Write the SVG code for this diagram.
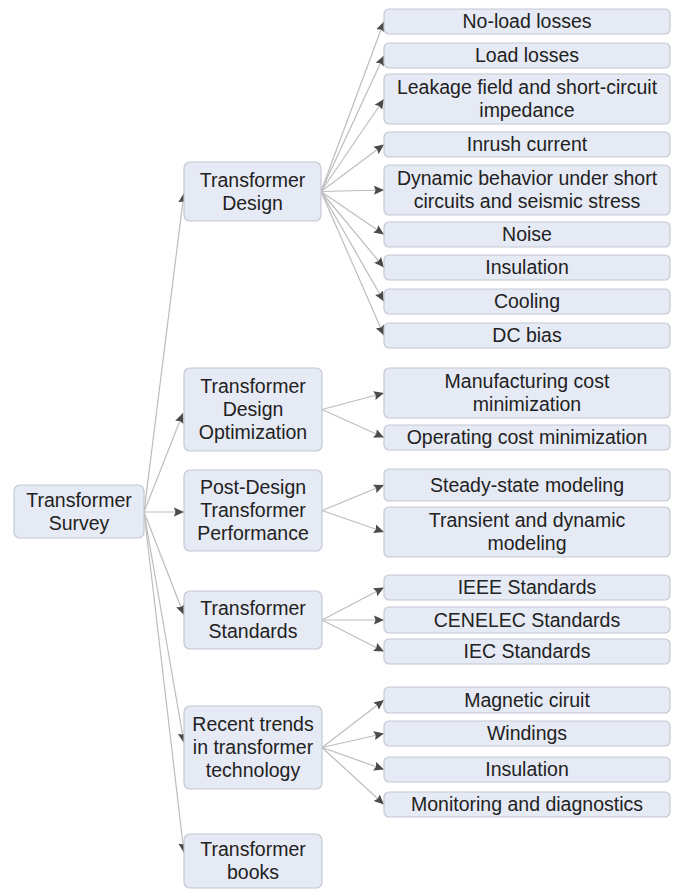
<svg xmlns="http://www.w3.org/2000/svg" width="678" height="889" viewBox="0 0 678 889">
<defs>
<marker id="ah" markerUnits="userSpaceOnUse" markerWidth="11" markerHeight="10" refX="10" refY="5" orient="auto">
<path d="M0,0.5 L10,5 L0,9.5 L1.5,5 Z" fill="#4a4a4a"/>
</marker>
<style>
.n rect{fill:#e6eaf5;stroke:#c3c8d3;stroke-width:1.2}
.n text{font-family:"Liberation Sans",Arial,sans-serif;font-size:19.5px;fill:#222;text-anchor:middle}
#connectors line{stroke:#bdbdbd;stroke-width:1.2;marker-end:url(#ah)}
</style>
</defs>
<rect width="678" height="889" fill="#ffffff"/>
<g id="connectors">
<line x1="144" y1="512" x2="184" y2="193"/>
<line x1="144" y1="512" x2="183" y2="413"/>
<line x1="144" y1="512" x2="184" y2="512"/>
<line x1="144" y1="512" x2="184" y2="615"/>
<line x1="144" y1="512" x2="184" y2="743"/>
<line x1="144" y1="512" x2="184" y2="853"/>
<line x1="321" y1="191.5" x2="384" y2="21.5"/>
<line x1="321" y1="191.5" x2="384" y2="55.5"/>
<line x1="321" y1="191.5" x2="384" y2="99"/>
<line x1="321" y1="191.5" x2="384" y2="144.5"/>
<line x1="321" y1="191.5" x2="384" y2="190"/>
<line x1="321" y1="191.5" x2="384" y2="234.5"/>
<line x1="321" y1="191.5" x2="384" y2="267.5"/>
<line x1="321" y1="191.5" x2="384" y2="301.5"/>
<line x1="321" y1="191.5" x2="384" y2="335.5"/>
<line x1="322" y1="409.5" x2="384" y2="393"/>
<line x1="322" y1="409.5" x2="384" y2="437.5"/>
<line x1="322" y1="510.5" x2="384" y2="485"/>
<line x1="322" y1="510.5" x2="384" y2="532"/>
<line x1="322" y1="620" x2="384" y2="587.5"/>
<line x1="322" y1="620" x2="384" y2="620"/>
<line x1="322" y1="620" x2="384" y2="651.5"/>
<line x1="322" y1="747.5" x2="384" y2="700"/>
<line x1="322" y1="747.5" x2="384" y2="733.5"/>
<line x1="322" y1="747.5" x2="384" y2="769.5"/>
<line x1="322" y1="747.5" x2="384" y2="804.5"/>
</g>
<g id="root" class="n"><rect x="14" y="485" width="130" height="53" rx="6"/><text x="79" y="506.8">Transformer</text><text x="79" y="529.8">Survey</text></g>
<g id="design" class="n"><rect x="184" y="162" width="137" height="59" rx="6"/><text x="252.5" y="187">Transformer</text><text x="252.5" y="210">Design</text></g>
<g id="optimization" class="n"><rect x="184" y="368" width="138" height="83" rx="6"/><text x="253" y="393.3">Transformer</text><text x="253" y="416.3">Design</text><text x="253" y="439.3">Optimization</text></g>
<g id="postdesign" class="n"><rect x="184" y="470" width="138" height="81" rx="6"/><text x="253" y="494.3">Post-Design</text><text x="253" y="517.3">Transformer</text><text x="253" y="540.3">Performance</text></g>
<g id="standards" class="n"><rect x="184" y="591" width="138" height="58" rx="6"/><text x="253" y="615.3">Transformer</text><text x="253" y="638.3">Standards</text></g>
<g id="trends" class="n"><rect x="184" y="706" width="138" height="83" rx="6"/><text x="253" y="731.3">Recent trends</text><text x="253" y="754.3">in transformer</text><text x="253" y="777.3">technology</text></g>
<g id="books" class="n"><rect x="184" y="834" width="138" height="54" rx="6"/><text x="253" y="856.3">Transformer</text><text x="253" y="879.3">books</text></g>
<g id="noload" class="n"><rect x="384" y="9" width="286" height="25" rx="5"/><text x="527" y="28.3">No-load losses</text></g>
<g id="loadlosses" class="n"><rect x="384" y="43" width="286" height="25" rx="5"/><text x="527" y="62.3">Load losses</text></g>
<g id="leakage" class="n"><rect x="384" y="74" width="286" height="50" rx="5"/><text x="527" y="94.3">Leakage field and short-circuit</text><text x="527" y="117.3">impedance</text></g>
<g id="inrush" class="n"><rect x="384" y="132" width="286" height="25" rx="5"/><text x="527" y="151.3">Inrush current</text></g>
<g id="dynamic" class="n"><rect x="384" y="165" width="286" height="50" rx="5"/><text x="527" y="185.3">Dynamic behavior under short</text><text x="527" y="208.3">circuits and seismic stress</text></g>
<g id="noise" class="n"><rect x="384" y="222" width="286" height="25" rx="5"/><text x="527" y="241.3">Noise</text></g>
<g id="insulation1" class="n"><rect x="384" y="255" width="286" height="25" rx="5"/><text x="527" y="274.3">Insulation</text></g>
<g id="cooling" class="n"><rect x="384" y="289" width="286" height="25" rx="5"/><text x="527" y="308.3">Cooling</text></g>
<g id="dcbias" class="n"><rect x="384" y="323" width="286" height="25" rx="5"/><text x="527" y="342.3">DC bias</text></g>
<g id="manufacturing" class="n"><rect x="384" y="368" width="286" height="50" rx="5"/><text x="527" y="388.3">Manufacturing cost</text><text x="527" y="411.3">minimization</text></g>
<g id="operating" class="n"><rect x="384" y="425" width="286" height="25" rx="5"/><text x="527" y="444.3">Operating cost minimization</text></g>
<g id="steady" class="n"><rect x="384" y="469" width="286" height="32" rx="5"/><text x="527" y="491.8">Steady-state modeling</text></g>
<g id="transient" class="n"><rect x="384" y="507" width="286" height="50" rx="5"/><text x="527" y="527.3">Transient and dynamic</text><text x="527" y="550.3">modeling</text></g>
<g id="ieee" class="n"><rect x="384" y="575" width="286" height="25" rx="5"/><text x="527" y="594.3">IEEE Standards</text></g>
<g id="cenelec" class="n"><rect x="384" y="607" width="286" height="26" rx="5"/><text x="527" y="626.8">CENELEC Standards</text></g>
<g id="iec" class="n"><rect x="384" y="639" width="286" height="25" rx="5"/><text x="527" y="658.3">IEC Standards</text></g>
<g id="magnetic" class="n"><rect x="384" y="687" width="286" height="26" rx="5"/><text x="527" y="706.8">Magnetic ciruit</text></g>
<g id="windings" class="n"><rect x="384" y="721" width="286" height="25" rx="5"/><text x="527" y="740.3">Windings</text></g>
<g id="insulation2" class="n"><rect x="384" y="757" width="286" height="25" rx="5"/><text x="527" y="776.3">Insulation</text></g>
<g id="monitoring" class="n"><rect x="384" y="792" width="286" height="25" rx="5"/><text x="527" y="811.3">Monitoring and diagnostics</text></g>
</svg>
